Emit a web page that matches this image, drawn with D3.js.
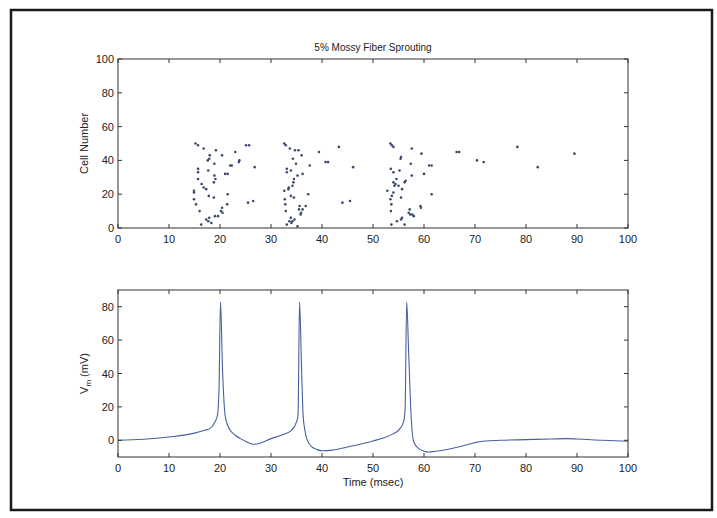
<!DOCTYPE html>
<html>
<head>
<meta charset="utf-8">
<script src="https://cdn.jsdelivr.net/npm/d3@7/dist/d3.min.js"></script>
<style>
  html, body { margin: 0; padding: 0; background: #fff; }
  svg { display: block; }
  text { font-family: "Liberation Sans", Arial, Helvetica, sans-serif; fill: #222; }
</style>
</head>
<body>
<svg id="chart" width="717" height="518"></svg>
<script>
// ---------- DATA ----------
const chartTitle = "5% Mossy Fiber Sprouting";
const xTicks = [0, 10, 20, 30, 40, 50, 60, 70, 80, 90, 100];
const rasterYTicks = [0, 20, 40, 60, 80, 100];
const vmYTicks = [0, 20, 40, 60, 80];

// spike raster: time (msec) and cell number
const spikeTime = [
  // burst 1
  15.2, 15.7, 16.8, 18.0, 17.9, 17.6, 19.2, 18.9, 20.4, 17.7, 15.7, 15.7, 18.9, 19.1, 18.8,
  21.0, 21.5, 22.0, 22.3, 23.0, 23.7, 23.8, 25.1, 25.7, 26.8, 15.7, 16.4, 16.8, 17.3, 14.9,
  14.9, 17.8, 18.8, 21.5, 14.9, 15.3, 16.0, 20.4, 20.2, 20.5, 21.4, 19.6, 19.0, 17.9, 17.3,
  17.7, 18.3, 16.3, 25.5, 26.5,
  // burst 2
  32.6, 32.9, 33.7, 34.7, 35.4, 36.0, 34.3, 34.9, 33.1, 33.1, 33.9, 35.2, 34.5, 34.4, 36.2,
  34.2, 33.5, 33.4, 32.6, 33.9, 34.5, 37.3, 32.7, 32.8, 35.6, 35.5, 36.2, 32.9, 36.8, 33.9,
  34.2, 33.6, 34.6, 34.0, 35.8, 35.9, 33.1, 35.2, 37.6, 39.4, 40.7, 41.2, 43.3, 44.0, 45.5,
  46.1,
  // burst 3
  53.4, 53.7, 54.0, 57.6, 59.5, 55.5, 55.4, 57.4, 61.0, 61.5, 53.5, 54.0, 55.2, 57.6, 60.0,
  54.6, 56.4, 56.2, 54.0, 54.4, 54.2, 55.0, 55.7, 52.8, 54.0, 53.7, 55.5, 53.4, 61.5, 53.6,
  59.3, 59.4, 57.2, 57.0, 53.5, 57.7, 58.0, 57.3, 55.7, 55.5, 54.7, 53.6, 56.2,
  // late sparse
  66.4, 66.9, 70.4, 71.7, 78.3, 82.3, 89.5
];
const spikeCell = [
  // burst 1
  50, 49, 47, 43, 41, 40, 46, 38, 43, 34, 35, 33, 31, 29, 27,
  32, 32, 37, 37, 45, 39, 40, 49, 49, 36, 29, 26, 24, 23, 22,
  21, 19, 18, 20, 17, 14, 10, 12, 10, 9, 14, 7, 7, 6, 5,
  4, 3, 2, 15, 16,
  // burst 2
  50, 49, 47, 46, 46, 43, 41, 38, 35, 33, 34, 31, 29, 27, 32,
  25, 24, 23, 22, 19, 18, 20, 17, 14, 13, 11, 11, 10, 13, 6,
  4, 4, 5, 3, 8, 9, 2, 1, 37, 45, 39, 39, 48, 15, 16,
  36,
  // burst 3
  50, 49, 48, 47, 44, 42, 41, 38, 37, 37, 35, 33, 34, 31, 32,
  29, 28, 27, 27, 26, 25, 25, 23, 22, 21, 19, 18, 17, 20, 14,
  13, 12, 11, 9, 10, 8, 7, 8, 6, 5, 4, 2, 2,
  // late sparse
  45, 45, 40, 39, 48, 36, 44
];

// membrane potential trace
const vmTime = [
  0, 5, 10, 15, 17, 18, 19, 19.5, 19.8, 20.1, 20.5, 21, 21.5, 22, 23, 24, 25, 26.5, 28, 30,
  32, 34, 35, 35.3, 35.6, 36, 36.3, 36.7, 37, 38, 39, 40, 42, 45, 50, 52, 54, 55, 56, 56.3,
  56.6, 57, 57.5, 58, 59, 60, 61, 62, 65, 68, 70, 72, 75, 80, 85, 88, 90, 95, 100
];
const vmValue = [
  0, 0.6, 2, 4.3, 6, 7, 11, 15, 30, 83, 42, 15, 9, 6, 3, 1, -0.6, -2.4, -1.6, 1,
  3, 6, 11, 15, 83, 42, 15, 5, 1, -4, -5.5, -6.3, -5.9, -4, -0.4, 1.4, 4, 6, 11, 19,
  83, 52, 13, -1, -5, -6.5, -7, -6.7, -5.2, -3, -1.4, -0.4, 0, 0.4, 0.8, 1, 0.8, 0, -0.6
];

// ---------- LAYOUT ----------
const svg = d3.select("#chart");
const axisColor = "#333";
const left = 118, right = 628;

// outer frame
svg.append("rect")
  .attr("x", 11).attr("y", 10).attr("width", 701).attr("height", 500)
  .attr("fill", "none").attr("stroke", "#1a1a1a").attr("stroke-width", 2.5);

function drawBox(g, x, y, xt, yt, tickLen) {
  const [x0, x1] = x.range();
  const [y0, y1] = y.range(); // y0 bottom, y1 top
  g.append("rect").attr("x", x0).attr("y", y1).attr("width", x1 - x0).attr("height", y0 - y1)
    .attr("fill", "none").attr("stroke", axisColor).attr("stroke-width", 1);
  // inward ticks on all sides
  xt.forEach(v => {
    const px = x(v);
    g.append("line").attr("x1", px).attr("x2", px).attr("y1", y0).attr("y2", y0 - tickLen)
      .attr("stroke", axisColor);
    g.append("line").attr("x1", px).attr("x2", px).attr("y1", y1).attr("y2", y1 + tickLen)
      .attr("stroke", axisColor);
    g.append("text").attr("x", px).attr("y", y0 + 15).attr("text-anchor", "middle")
      .attr("font-size", 11).text(v);
  });
  yt.forEach(v => {
    const py = y(v);
    g.append("line").attr("x1", x0).attr("x2", x0 + tickLen).attr("y1", py).attr("y2", py)
      .attr("stroke", axisColor);
    g.append("line").attr("x1", x1).attr("x2", x1 - tickLen).attr("y1", py).attr("y2", py)
      .attr("stroke", axisColor);
    g.append("text").attr("x", x0 - 4).attr("y", py + 4).attr("text-anchor", "end")
      .attr("font-size", 11).text(v);
  });
}

// ---------- TOP: RASTER ----------
const xTop = d3.scaleLinear().domain([0, 100]).range([left, right]);
const yTop = d3.scaleLinear().domain([0, 100]).range([228, 59]);
const gTop = svg.append("g");

gTop.selectAll("circle.spike")
  .data(spikeTime.map((t, i) => ({ t, c: spikeCell[i] })))
  .enter().append("circle")
  .attr("class", "spike")
  .attr("cx", d => xTop(d.t))
  .attr("cy", d => yTop(d.c))
  .attr("r", 1.3)
  .attr("fill", "#3b4a6b");

drawBox(gTop, xTop, yTop, xTicks, rasterYTicks, 4);

gTop.append("text").attr("x", (left + right) / 2).attr("y", 51)
  .attr("text-anchor", "middle").attr("font-size", 10).text(chartTitle);
gTop.append("text")
  .attr("transform", `translate(88, ${(59 + 228) / 2}) rotate(-90)`)
  .attr("text-anchor", "middle").attr("font-size", 11).text("Cell Number");

// ---------- BOTTOM: VOLTAGE ----------
const xBot = d3.scaleLinear().domain([0, 100]).range([left, right]);
const yBot = d3.scaleLinear().domain([-10, 90]).range([457, 290]);
const gBot = svg.append("g");

const line = d3.line().x((d, i) => xBot(vmTime[i])).y(d => yBot(d)).curve(d3.curveMonotoneX);
gBot.append("path").datum(vmValue)
  .attr("d", line).attr("fill", "none").attr("stroke", "#46609e").attr("stroke-width", 1.1);

drawBox(gBot, xBot, yBot, xTicks, vmYTicks, 4);

const vl = gBot.append("text")
  .attr("transform", `translate(88, ${(290 + 457) / 2}) rotate(-90)`)
  .attr("text-anchor", "middle").attr("font-size", 11);
vl.append("tspan").text("V");
vl.append("tspan").attr("font-size", 8).attr("dy", 3).text("m");
vl.append("tspan").attr("dy", -3).text(" (mV)");

gBot.append("text").attr("x", (left + right) / 2).attr("y", 486)
  .attr("text-anchor", "middle").attr("font-size", 11).text("Time (msec)");
</script>
</body>
</html>
